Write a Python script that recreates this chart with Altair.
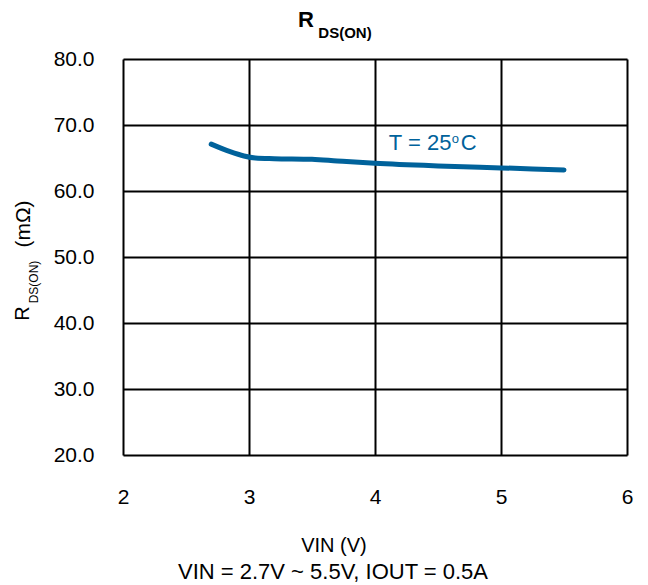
import altair as alt
import pandas as pd

# Data
vin = [2.70, 2.85, 2.96, 3.05, 3.20, 3.50, 3.70, 4.00, 4.50, 5.00, 5.50]
rdson = [67.1, 65.95, 65.3, 65.0, 64.9, 64.8, 64.55, 64.2, 63.8, 63.5, 63.2]

x_ticks = [2, 3, 4, 5, 6]
y_ticks = [20, 30, 40, 50, 60, 70, 80]

BLUE = "#00629B"
FONT = "Liberation Sans"

df = pd.DataFrame({"vin": vin, "rdson": rdson})

x_enc = alt.X("vin:Q", scale=alt.Scale(domain=[2, 6], nice=False),
              axis=alt.Axis(values=x_ticks, format="d", title=None, grid=True,
                            gridColor="black", gridWidth=2, gridOpacity=1,
                            domain=False, ticks=False, labelPadding=31,
                            labelFontSize=21, labelFont=FONT, labelColor="black",
                            labelBaseline="top", labelFlush=False))
y_enc = alt.Y("rdson:Q", scale=alt.Scale(domain=[20, 80], nice=False, zero=False),
              axis=alt.Axis(values=y_ticks, format=".1f", title=None, grid=True,
                            gridColor="black", gridWidth=2, gridOpacity=1,
                            domain=False, ticks=False, labelPadding=29,
                            labelFontSize=21, labelFont=FONT, labelColor="black",
                            labelFlush=False))

line = alt.Chart(df).mark_line(interpolate="monotone", strokeWidth=5,
                               color=BLUE, strokeCap="round").encode(x=x_enc, y=y_enc)

# In-plot annotation (data coordinates)
ann = pd.DataFrame({"vin": [4.11], "rdson": [66.2], "t": ["T = 25"]})
ann_o = pd.DataFrame({"vin": [4.61], "rdson": [67.3], "t": ["o"]})
ann_c = pd.DataFrame({"vin": [4.68], "rdson": [66.2], "t": ["C"]})
t1 = alt.Chart(ann).mark_text(align="left", baseline="alphabetic", fontSize=22,
                              font=FONT, color=BLUE).encode(x="vin:Q", y="rdson:Q", text="t:N")
t2 = alt.Chart(ann_o).mark_text(align="left", baseline="alphabetic", fontSize=13,
                                font=FONT, color=BLUE).encode(x="vin:Q", y="rdson:Q", text="t:N")
t3 = alt.Chart(ann_c).mark_text(align="left", baseline="alphabetic", fontSize=22,
                                font=FONT, color=BLUE).encode(x="vin:Q", y="rdson:Q", text="t:N")


def label(txt, px, py, size, bold=False, angle=0):
    kw = dict(align="center", baseline="middle", fontSize=size, font=FONT,
              color="black", fontWeight="bold" if bold else "normal")
    if angle:
        kw["angle"] = angle
    return alt.Chart(pd.DataFrame({"t": [txt]})).mark_text(**kw).encode(
        x=alt.value(px), y=alt.value(py), text="t:N")


labels = [
    label("R", 183, -39, 22, bold=True),
    label("DS(ON)", 222, -26, 15, bold=True),
    label("R", -100.5, 254.5, 20, angle=270),
    label("DS(ON)", -89, 223, 12, angle=270),
    label("(mΩ)", -99.5, 165, 21, angle=270),
    label("VIN (V)", 211, 487, 20),
    label("VIN = 2.7V ~ 5.5V, IOUT = 0.5A", 210, 513, 22),
]

chart = alt.layer(line, t1, t2, t3, *labels).properties(
    width=504, height=396,
    autosize=alt.AutoSizeParams(type="none"),
    padding={"left": 115, "top": 51, "right": 13, "bottom": 128},
).configure_view(stroke="black", strokeWidth=3).configure(background="white")

chart.save("out.html", embed_options={"renderer": "svg", "actions": False})
